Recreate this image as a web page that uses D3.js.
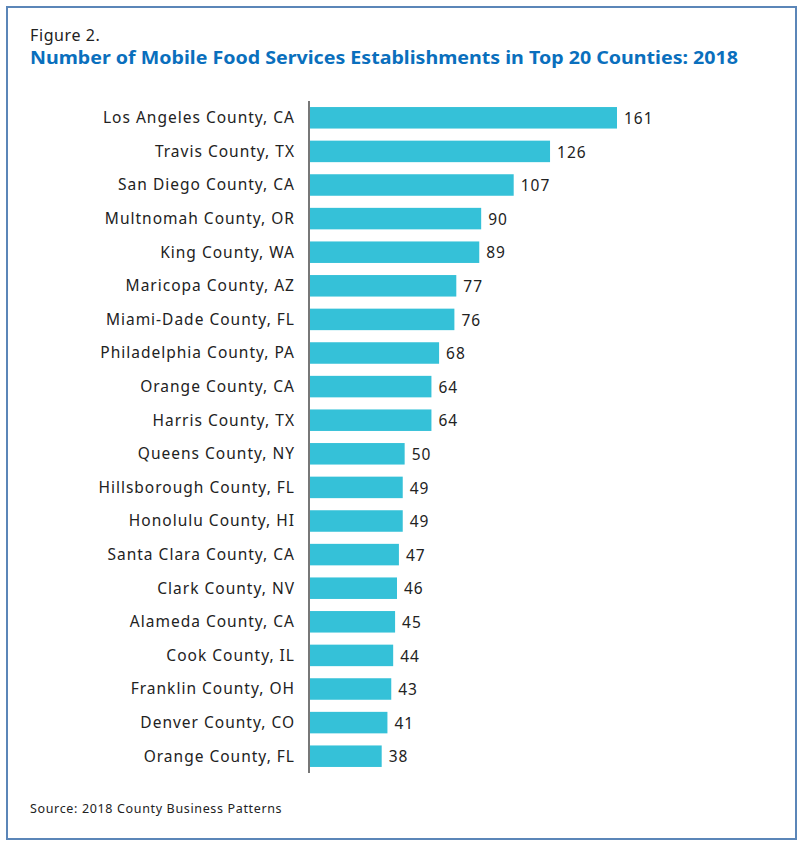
<!DOCTYPE html>
<html>
<head>
<meta charset="utf-8">
<script src="https://cdn.jsdelivr.net/npm/d3@7"></script>
<style>
  body { margin: 0; background: #fff; }
  svg { display: block; }
</style>
</head>
<body>
<div id="chart"></div>
<script>
const counties = [
    "Los Angeles County, CA", "Travis County, TX", "San Diego County, CA",
    "Multnomah County, OR", "King County, WA", "Maricopa County, AZ",
    "Miami-Dade County, FL", "Philadelphia County, PA", "Orange County, CA",
    "Harris County, TX", "Queens County, NY", "Hillsborough County, FL",
    "Honolulu County, HI", "Santa Clara County, CA", "Clark County, NV",
    "Alameda County, CA", "Cook County, IL", "Franklin County, OH",
    "Denver County, CO", "Orange County, FL"
];
const establishments = [161, 126, 107, 90, 89, 77, 76, 68, 64, 64, 50, 49, 49, 47, 46, 45, 44, 43, 41, 38];

const figureLabel = "Figure 2.";
const titleText = "Number of Mobile Food Services Establishments in Top 20 Counties: 2018";
const sourceText = "Source: 2018 County Business Patterns";

const width = 800, height = 845;
const font = "'Noto Sans', sans-serif";

const svg = d3.select("#chart").append("svg")
    .attr("width", width)
    .attr("height", height);

// frame
svg.append("rect")
    .attr("x", 7).attr("y", 7)
    .attr("width", 789).attr("height", 832)
    .attr("fill", "none")
    .attr("stroke", "#5b86b8")
    .attr("stroke-width", 2);

svg.append("text")
    .attr("x", 30).attr("y", 41)
    .style("font-family", font)
    .style("font-size", "16px")
    .style("letter-spacing", "0.6px")
    .attr("fill", "#222")
    .text(figureLabel);

svg.append("text")
    .attr("x", 30).attr("y", 64)
    .style("font-family", font)
    .style("font-size", "17px")
    .style("font-weight", "bold")
    .attr("fill", "#0a6fbd")
    .attr("textLength", 708)
    .attr("lengthAdjust", "spacingAndGlyphs")
    .text(titleText);

const x0 = 309;
const x = d3.scaleLinear().domain([0, 161]).range([x0, 617]);
const y = d3.scaleBand().domain(counties).range([101, 773]).paddingInner(0.36).paddingOuter(0.18);

const rows = counties.map((c, i) => ({ county: c, value: establishments[i] }));

svg.append("g").selectAll("rect")
    .data(rows)
    .enter().append("rect")
    .attr("x", x(0))
    .attr("y", d => y(d.county))
    .attr("width", d => x(d.value) - x(0))
    .attr("height", y.bandwidth())
    .attr("fill", "#35c1d8");

svg.append("g").selectAll("text")
    .data(rows)
    .enter().append("text")
    .attr("x", 295)
    .attr("y", d => y(d.county) + y.bandwidth() / 2)
    .attr("dy", "0.35em")
    .attr("text-anchor", "end")
    .style("font-family", font)
    .style("font-size", "15.5px")
    .style("letter-spacing", "1px")
    .attr("fill", "#222")
    .text(d => d.county);

svg.append("g").selectAll("text")
    .data(rows)
    .enter().append("text")
    .attr("x", d => x(d.value) + 7)
    .attr("y", d => y(d.county) + y.bandwidth() / 2)
    .attr("dy", "0.4em")
    .style("font-family", font)
    .style("font-size", "15.5px")
    .style("letter-spacing", "1px")
    .attr("fill", "#222")
    .text(d => d.value);

// axis line
svg.append("line")
    .attr("x1", x0).attr("x2", x0)
    .attr("y1", 101).attr("y2", 773)
    .attr("stroke", "#777")
    .attr("stroke-width", 2);

svg.append("text")
    .attr("x", 30).attr("y", 813)
    .style("font-family", font)
    .style("font-size", "12.5px")
    .style("letter-spacing", "0.65px")
    .attr("fill", "#222")
    .text(sourceText);
</script>
</body>
</html>
